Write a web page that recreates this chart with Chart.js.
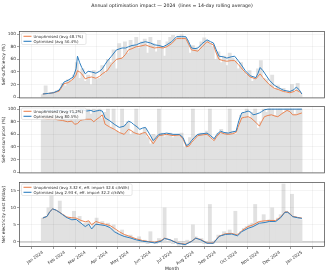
<!DOCTYPE html>
<html><head><meta charset="utf-8">
<script src="https://cdn.jsdelivr.net/npm/chart.js@4.4.1/dist/chart.umd.min.js"></script>
<style>
html,body{margin:0;padding:0;background:#fff}
body{width:330px;height:274px;position:relative;overflow:hidden}
canvas{position:absolute;left:0}
</style></head><body>
<canvas id="c1" style="top:0px;width:330px;height:102px" width="330" height="102"></canvas>
<canvas id="c2" style="top:102px;width:330px;height:75px" width="330" height="75"></canvas>
<canvas id="c3" style="top:177px;width:330px;height:97px" width="330" height="97"></canvas>
<script>
const titleText = 'Annual optimisation impact \u2014 2024  (lines = 14-day rolling average)';
const monthTicks = [0,31,60,91,121,152,182,213,244,274,305,335,366];
const monthLabels = ['Jan 2024','Feb 2024','Mar 2024','Apr 2024','May 2024','Jun 2024','Jul 2024','Aug 2024','Sep 2024','Oct 2024','Nov 2024','Dec 2024','Jan 2025'];

// Panel 1: self-sufficiency (%) rolling averages
const ssDays  = [0,8,15,23,30,36,43,47,49,52,55,60,64,69,75,80,84,88,91,97,104,112,117,121,126,132,138,145,152,158,164,170,175,182,189,196,202,206,210,215,219,225,232,237,241,245,249,255,260,266,271,276,280,286,293,301,304,307,311,314,320,327,333,340,349,355,358,362,366];
const ssOpt   = [5,6,7,11,24,27,32,45,65,55,47,37,41,40,38,41,45,52,57,65,75,78,78,80,82,83,86,88,86,83,82,80,83,88,96,96,96,88,78,77,78,85,91,88,86,75,65,64,62,64,65,58,52,42,34,31,38,47,42,37,27,19,15,11,9,12,16,12,5];
const ssUnopt = [5,6,7,9.5,21.5,23,29,35,42,40,37,29,31,32,30,33,37,40,42,52,60,62,68,75,77,80,81,83,80,78,79,78,80,85,93,93,93,84,75,74,73,80,88,85,83,70,60,58,57,58,58,52,47,39,32,29,33,37,31,27,20,14,12,9,7,9,11,9,5];
const ssDaily = [4,18,5,6,8,10,12,22, 18,28,25,35,55,30,45,25, 35,20,42,28,30,50,38,60, 55,75,45,85,62,88,70,90, 82,95,78,88,92,70,95,85, 72,90,80,65,88,95,98,92, 97,99,95,90,70,82,78,75, 88,94,90,85,80,60,72,55, 65,50,70,62,58,45,55,40, 35,42,25,30,45,58,30,28, 20,35,12,18,10,14,6,9, 20,8,22,4];

// Panel 2: self-consumption (%)
const scDays  = [0,7,14,21,28,35,41,45,49,53,56,62,68,72,75,80,84,86,88,94,101,108,115,118,121,125,128,133,137,141,145,150,156,160,164,170,175,184,193,198,203,207,210,214,219,225,232,237,242,246,251,256,262,268,273,277,281,285,290,294,297,301,306,309,313,318,323,328,332,338,345,349,353,358,366];
const scOpt   = [97,98,97,98,97,96,96,93,96,99,99,97,98,96,97,98,97,92,86,82,76,71,73,77,81,79,76,72,68,70,71,62,50,55,60,61,62,60,60,55,42,45,50,55,60,61,62,58,53,60,65,63,62,64,65,82,94,95,97,95,91,92,94,96,99,100,100,100,100,100,100,100,100,100,100];
const scUnopt = [86,84,85,83,82,80,81,76,77,82,83,84,84,80,83,87,91,84,76,72,68,63,60,64,68,66,63,61,60,62,63,55,45,52,58,59,60,58,59,53,40,42,47,52,58,59,60,55,50,57,63,61,60,61,63,75,86,87,88,86,83,79,73,80,88,90,91,89,88,93,98,96,91,91,94];
const scDaily = [100,98,100,95,100,100,90,100, 98,100,85,100,95,100,100,88, 100,92,100,98,100,85,95,100, 70,100,65,62,100,75,80,60, 65,100,58,62,70,55,45,60, 58,100,62,56,60,62,55,58, 60,62,40,45,55,100,58,60, 62,58,65,100,50,55,62,68, 60,62,100,65,60,70,90,95, 100,85,95,100,70,80,100,95, 100,100,90,100,100,95,100,100, 100,92,100,100];

// Panel 3: net electricity cost (EUR/day)
const ncDays  = [0,6,10,14,19,24,28,34,41,47,54,60,65,69,75,82,88,95,101,108,115,123,132,141,149,158,167,172,180,190,201,210,216,223,232,241,249,258,267,275,281,290,297,306,314,320,329,336,342,346,350,353,360,366];
const ncOpt   = [7.0,7.5,8.9,9.7,9.3,8.6,8.0,7.1,6.5,6.6,5.5,4.5,5.2,3.8,5.2,5.0,4.8,4.2,3.0,2.2,1.6,1.2,0.6,0.2,0.0,-0.3,0.2,1.0,0.6,-0.4,-0.8,0.1,1.1,0.6,-0.4,-0.4,1.6,2.2,2.3,1.8,3.0,4.0,4.5,5.5,5.7,6.0,6.0,7.1,8.7,8.7,8.0,7.4,7.1,6.9];
const ncUnopt = [7.0,7.5,8.9,9.7,9.3,8.7,8.1,7.3,7.1,7.0,6.3,5.9,6.2,5.0,6.0,5.5,5.2,4.8,4.0,3.0,2.2,1.6,0.9,0.4,0.1,-0.1,0.4,1.1,0.6,-0.3,-0.7,0.2,1.1,0.7,-0.3,-0.3,1.7,2.4,2.5,2.0,3.3,4.5,5.0,6.0,6.2,6.3,6.3,7.3,8.8,8.8,8.1,7.5,7.2,7.0];
const ncDaily = [7,7.5,10,14,9.5,9,12,8, 7.5,6.5,7,9,6,7.5,5,5.5, 6,4,5.5,7,5,6,4.5,5.5, 4,5,3,2.5,3.5,2,1.5,2, 1,0.5,1.5,0,0.5,-0.5,3,0, -0.5,1,0.5,10,0,0.5,-0.5,1, -1,-0.5,-1,0.5,0,5,1.5,0.5, 1,-0.5,0,11,-0.5,0.5,2,1.5, 3,2,3.5,2,9,2.5,3,4, 4.5,5,5.5,11,6,5.5,8,6, 6.5,10,6,7,8,17,9,8.5, 14,7.5,7,6.5];

const dailyDays = ssDaily.map((_, i) => i * 4);

const ORANGE = '#ec8553';
const BLUE = '#2f7fc0';
const GRAY = '#e1e1e1';
const FONT = '"DejaVu Sans", sans-serif';

function pts(xs, ys){ return xs.map((x,i)=>({x:x, y:ys[i]})); }

const framePlugin = {
  id:'frame',
  beforeDatasetsDraw(chart, args, opts){
    if (opts.zeroLine){
      const {ctx, chartArea:a} = chart;
      const y = chart.scales.y.getPixelForValue(0);
      ctx.save(); ctx.strokeStyle='rgba(190,190,190,0.8)'; ctx.lineWidth=1.5;
      ctx.beginPath(); ctx.moveTo(a.left,y); ctx.lineTo(a.right,y); ctx.stroke(); ctx.restore();
    }
  },
  afterDraw(chart, args, opts){
    const {ctx, chartArea:a} = chart;
    ctx.save();
    ctx.strokeStyle='#444'; ctx.lineWidth=0.7;
    ctx.strokeRect(a.left+0.5, a.top+0.5, a.right-a.left-1, a.bottom-a.top-1);
    const L = opts.legend;
    if (L){
      ctx.font = '3.9px ' + FONT;
      let w = 0; L.items.forEach(it=>{ w = Math.max(w, ctx.measureText(it.text).width); });
      const bx = a.left+2.5, by = a.top+2, bw = w + 15, bh = 11.5;
      ctx.fillStyle='rgba(255,255,255,0.85)';
      ctx.strokeStyle='#cfcfcf'; ctx.lineWidth=0.5;
      ctx.beginPath(); ctx.roundRect(bx, by, bw, bh, 1.5); ctx.fill(); ctx.stroke();
      L.items.forEach((it, i)=>{
        const yy = by + 3.3 + i*5;
        ctx.strokeStyle = it.color; ctx.lineWidth = 1.1;
        ctx.beginPath(); ctx.moveTo(bx+2, yy); ctx.lineTo(bx+10, yy); ctx.stroke();
        ctx.fillStyle='#333'; ctx.textBaseline='middle'; ctx.textAlign='left';
        ctx.fillText(it.text, bx+12, yy+0.2);
      });
    }
    if (opts.title){
      ctx.font = '4.7px ' + FONT; ctx.fillStyle='#222'; ctx.textAlign='center'; ctx.textBaseline='middle';
      ctx.fillText(opts.title, (a.left+a.right)/2, 5.5);
    }
    ctx.restore();
  }
};

function makeChart(id, o){
  const ds = [
    {type:'bar', data: pts(dailyDays, o.daily), backgroundColor: GRAY, borderWidth:0, barThickness:3.2, order:3},
    {type:'line', label:'Unoptimised', data: pts(o.days, o.unopt), borderColor: ORANGE, borderWidth:1, pointRadius:0, tension:0, order:2},
    {type:'line', label:'Optimised', data: pts(o.days, o.opt), borderColor: BLUE, borderWidth:1, pointRadius:0, tension:0, order:1}
  ];
  return new Chart(document.getElementById(id), {
    type:'line',
    data:{datasets: ds},
    plugins:[framePlugin],
    options:{
      responsive:false, animation:false, devicePixelRatio:1,
      layout:{padding:{top:o.padTop, bottom:o.padBottom, left:0, right:5}},
      plugins:{legend:{display:false}, tooltip:{enabled:false}, title:{display:false},
        frame:{legend:o.legend, title:o.title, zeroLine:o.zeroLine}},
      scales:{
        x:{type:'linear', min:-17, max:382,
          afterBuildTicks: s => { s.ticks = monthTicks.map(v=>({value:v})); },
          afterFit: s => { s.height = o.xHeight; },
          grid:{color:'rgba(0,0,0,0.09)', lineWidth:0.5, drawTicks: o.showX, tickLength:2, tickColor:'#444', z:1},
          border:{display:false},
          ticks:{display:o.showX, autoSkip:false, maxRotation:35, minRotation:35, padding:1,
            font:{size:4.3, family:FONT}, color:'#333',
            callback: v => monthLabels[monthTicks.indexOf(v)] },
          title:{display:o.showX, text:'Month', font:{size:4.5, family:FONT}, color:'#222', padding:{top:0,bottom:2}}
        },
        y:{min:o.ymin, max:o.ymax,
          afterBuildTicks: s => { s.ticks = o.yticks.map(v=>({value:v})); },
          afterFit: s => { s.width = 19; },
          grid:{color:'rgba(0,0,0,0.09)', lineWidth:0.5, tickLength:2, tickColor:'#444', z:1},
          border:{display:false},
          ticks:{font:{size:4.3, family:FONT}, color:'#333', padding:1},
          title:{display:true, text:o.ylabel, font:{size:4.3, family:FONT}, color:'#222', padding:{top:1,bottom:1}}
        }
      }
    }
  });
}

makeChart('c1', {days:ssDays, opt:ssOpt, unopt:ssUnopt, daily:ssDaily, ymin:-2, ymax:105, yticks:[0,20,40,60,80,100],
  ylabel:'Self-sufficiency (%)', padTop:31, padBottom:2, xHeight:0, showX:false, title:titleText,
  legend:{items:[{text:'Unoptimised (avg 48.7%)', color:ORANGE},{text:'Optimised (avg 56.4%)', color:BLUE}]}});
makeChart('c2', {days:scDays, opt:scOpt, unopt:scUnopt, daily:scDaily, ymin:-2, ymax:105, yticks:[0,20,40,60,80,100],
  ylabel:'Self-consumption (%)', padTop:4, padBottom:2, xHeight:0, showX:false,
  legend:{items:[{text:'Unoptimised (avg 71.2%)', color:ORANGE},{text:'Optimised (avg 80.5%)', color:BLUE}]}});
makeChart('c3', {days:ncDays, opt:ncOpt, unopt:ncUnopt, daily:ncDaily, ymin:-1.5, ymax:17.6, yticks:[0,5,10,15],
  ylabel:'Net electricity cost (\u20ac/day)', padTop:5, padBottom:0, xHeight:27, showX:true, zeroLine:true,
  legend:{items:[{text:'Unoptimised (avg 3.32 \u20ac, eff. import 32.6 c/kWh)', color:ORANGE},{text:'Optimised (avg 2.93 \u20ac, eff. import 32.2 c/kWh)', color:BLUE}]}});
</script>
</body></html>
